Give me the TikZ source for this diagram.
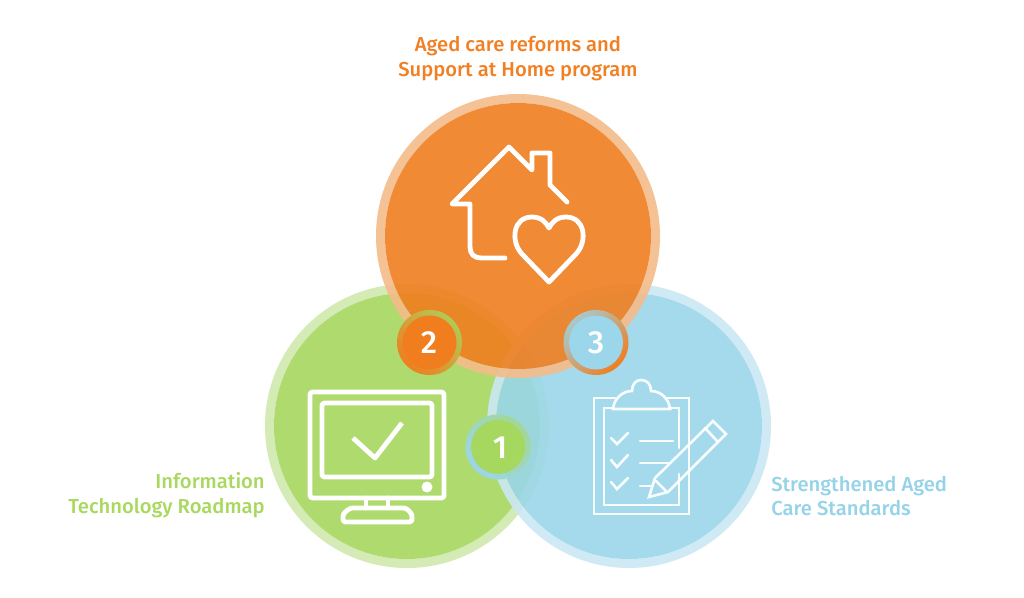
\documentclass[tikz,border=0pt]{standalone}
\usepackage{fontspec}
\setmainfont{Fira Sans Medium}
\definecolor{grn}{HTML}{A6D75F}
\definecolor{grnr}{HTML}{D0E9AD}
\definecolor{blu}{HTML}{9BD6EA}
\definecolor{blur}{HTML}{CAE8F3}
\definecolor{org}{HTML}{F07E20}
\definecolor{orgr}{HTML}{F5BC8A}
\definecolor{gtxt}{HTML}{A9D85F}
\definecolor{btxt}{HTML}{95D3E8}
\definecolor{otxt}{HTML}{F27F22}
\tikzset{
 disk/.style={fill opacity=.9},
 icon/.style={draw=white,line width=3.6pt,line cap=round,line join=round},
 iconthin/.style={draw=white!100,draw opacity=.92,line width=2pt,line cap=round,line join=miter},
 lab/.style={font=\fontsize{15.15pt}{18.7pt}\selectfont,inner sep=0pt},
 num/.style={text=white,font=\fontsize{24pt}{24pt}\selectfont,inner sep=0pt},
}
\begin{document}
\begin{tikzpicture}[x=.75pt,y=-.75pt]
\useasboundingbox (0,0) rectangle (1024,597);
\fill[white] (0,0) rectangle (1024,597);
% green
\fill[grnr,disk,even odd rule] (407,426) circle (142) (407,426) circle (133);
\fill[grn,disk] (407,426) circle (133);
% blue
\fill[blur,disk,even odd rule] (629,426) circle (142) (629,426) circle (133);
\fill[blu,disk] (629,426) circle (133);
% orange
\fill[orgr,disk,even odd rule] (518,236) circle (142) (518,236) circle (133);
\fill[org,disk] (518,236) circle (133);
% house icon
\draw[icon] (505,258) -- (481,258) .. controls (474,258) and (470,254) .. (470,247) -- (470,204) -- (452,204) -- (509,147) -- (532,170) -- (532,153) -- (550,153) -- (550,185) -- (567,202);
\draw[icon] (549,282) -- (522,254) .. controls (510,241) and (513,217) .. (532,217) .. controls (541,217) and (546,222) .. (549,228) .. controls (552,222) and (557,217) .. (566,217) .. controls (585,217) and (588,241) .. (576,254) -- cycle;
% monitor icon
\draw[icon,rounded corners=2pt] (310,392) rectangle (444,498);
\draw[icon,rounded corners=2pt] (322,403) rectangle (432,477);
\draw[icon,line cap=butt] (353,438) -- (375,458) -- (402,423);
\fill[white] (427,487) circle (5.5);
\draw[icon] (366,498) -- (366,508) (388,498) -- (388,508);
\draw[icon,rounded corners=2pt] (343,522) -- (343,514) -- (350,508) -- (406,508) -- (412,514) -- (412,522) -- cycle;
% clipboard icon
\draw[iconthin] (615,398) -- (594,398) -- (594,514) -- (689,514) -- (689,398) -- (665,398);
\draw[iconthin] (613,408) -- (604,408) -- (604,505) -- (679,505) -- (679,474);
\draw[iconthin] (679,448) -- (679,408) -- (670,408);
\draw[iconthin] (613,409) .. controls (614,399) and (622,391) .. (632,391) .. controls (632,384) and (636,380) .. (641,380) .. controls (647,380) and (651,384) .. (651,391) .. controls (661,391) and (669,399) .. (670,409) -- cycle;
\draw[iconthin] (611,438) -- (617,444) -- (628,433);
\draw[iconthin] (611,460) -- (617,467) -- (628,455);
\draw[iconthin] (611,482) -- (617,489) -- (628,478);
\draw[iconthin] (640,441) -- (673,441);
\draw[iconthin] (640,463) -- (668,463);
\draw[iconthin] (640,486) -- (652,486);
\draw[iconthin] (655,478) -- (713,421) -- (726,434) -- (668,492) -- (649,497) -- cycle;
\draw[iconthin] (705,428) -- (718,442);
\draw[iconthin] (656,481) -- (666,491);
% badges
\shade[top color=grn!85!org,bottom color=org,shading angle=-45] (429.5,342.5) circle (32.5);
\fill[org!95!orange] (429.5,342.5) circle (27);
\node[num] (n2) at (429,343) {2};
\shade[top color=blu!85!org,bottom color=org,shading angle=45] (596,342.5) circle (32.5);
\fill[blu] (596,342.5) circle (27);
\node[num] (n3) at (596,343) {3};
\shade[top color=grn!60!blu,bottom color=blu,shading angle=-45] (498,447) circle (32.5);
\fill[grn] (498,447) circle (27);
\node[num] (n1) at (500,448) {1};
% labels
\node[lab,text=otxt,align=center] (t1) at (518,58.5) {Aged care reforms and\\Support at Home program};
\node[lab,text=gtxt,align=right,anchor=east] (t2) at (265,495) {Information\\Technology Roadmap};
\node[lab,text=btxt,align=left,anchor=west] (t3) at (771,496) {Strengthened Aged\\Care Standards};
\end{tikzpicture}
\end{document}
